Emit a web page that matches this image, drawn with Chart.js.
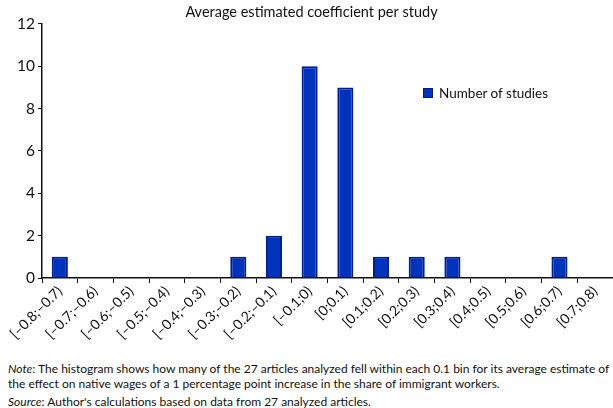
<!DOCTYPE html>
<html>
<head>
<meta charset="utf-8">
<script src="https://cdn.jsdelivr.net/npm/chart.js@4/dist/chart.umd.min.js"></script>
<style>
  body { margin: 0; background: #fff; font-family: Lato, "Liberation Sans", sans-serif; color: #111; }
  #wrap { position: relative; width: 613px; height: 347px; }
  #legend { position: absolute; left: 423px; top: 85px; font-size: 13.5px; white-space: nowrap; }
  #legend span.box { display: inline-block; width: 8px; height: 8px; background: #0033bb; border: 1px solid #001a88; margin-right: 6px; vertical-align: 0px; }
  #notes { position: absolute; left: 8px; top: 361px; font-size: 12px; line-height: 15px; white-space: nowrap; }
  #notes p { margin: 0; }
  #notes p.src { margin-top: 3px; }
</style>
</head>
<body>
<div id="wrap">
  <canvas id="chart"></canvas>
  <div id="legend"><span class="box"></span>Number of studies</div>
</div>
<div id="notes">
  <p><i>Note</i>: The histogram shows how many of the 27 articles analyzed fell within each 0.1 bin for its average estimate of<br>the effect on native wages of a 1 percentage point increase in the share of immigrant workers.</p>
  <p class="src"><i>Source</i>: Author's calculations based on data from 27 analyzed articles.</p>
</div>
<script>
const bins = ['[\u20130.8;\u20130.7)', '[\u20130.7;\u20130.6)', '[\u20130.6;\u20130.5)', '[\u20130.5;\u20130.4)',
    '[\u20130.4;\u20130.3)', '[\u20130.3;\u20130.2)', '[\u20130.2;\u20130.1)', '[\u20130.1;0)',
    '[0;0.1)', '[0.1;0.2)', '[0.2;0.3)', '[0.3;0.4)', '[0.4;0.5)', '[0.5;0.6)', '[0.6;0.7)', '[0.7;0.8)'];
const studies = [1, 0, 0, 0, 0, 1, 2, 10, 9, 1, 1, 1, 0, 0, 1, 0];
const yTicks = [0, 2, 4, 6, 8, 10, 12];

const ctx = document.getElementById('chart').getContext('2d');
new Chart(ctx, {
    type: 'bar',
    data: {
        labels: bins,
        datasets: [{
            label: 'Number of studies',
            data: studies,
            backgroundColor: '#0033bb',
            borderColor: '#001a99',
            borderWidth: 2,
            borderSkipped: 'bottom',
            barPercentage: 0.45,
            categoryPercentage: 1
        }]
    },
    options: {
        responsive: true,
        maintainAspectRatio: false,
        animation: false,
        // left padding shifts the title centre to match the original
        layout: { padding: { left: 10, right: 0, top: 0, bottom: 0 } },
        plugins: {
            legend: { display: false },
            tooltip: { enabled: false },
            title: {
                display: true,
                text: 'Average estimated coefficient per study',
                color: '#111',
                font: { family: 'Lato', size: 14.5, weight: 'normal' },
                padding: { top: 4, bottom: 2.5 }
            }
        },
        scales: {
            x: {
                afterFit: (scale) => { scale.height = 69; },
                grid: { display: true, drawOnChartArea: false, drawTicks: true, tickLength: 5, color: '#111', offset: true },
                border: { color: '#111', width: 1.5 },
                ticks: {
                    color: '#111',
                    font: { family: 'Lato', size: 14 },
                    maxRotation: 45,
                    minRotation: 45,
                    padding: 0,
                    autoSkip: false
                }
            },
            y: {
                min: 0,
                max: 12,
                afterFit: (scale) => { scale.width = 32; },
                afterBuildTicks: (scale) => { scale.ticks = yTicks.map(v => ({ value: v })); },
                grid: { display: true, drawOnChartArea: false, drawTicks: true, tickLength: 4, color: '#111' },
                border: { color: '#111', width: 1.5 },
                ticks: {
                    color: '#111',
                    font: { family: 'Lato', size: 15.5 },
                    padding: 3
                }
            }
        }
    }
});
</script>
</body>
</html>
